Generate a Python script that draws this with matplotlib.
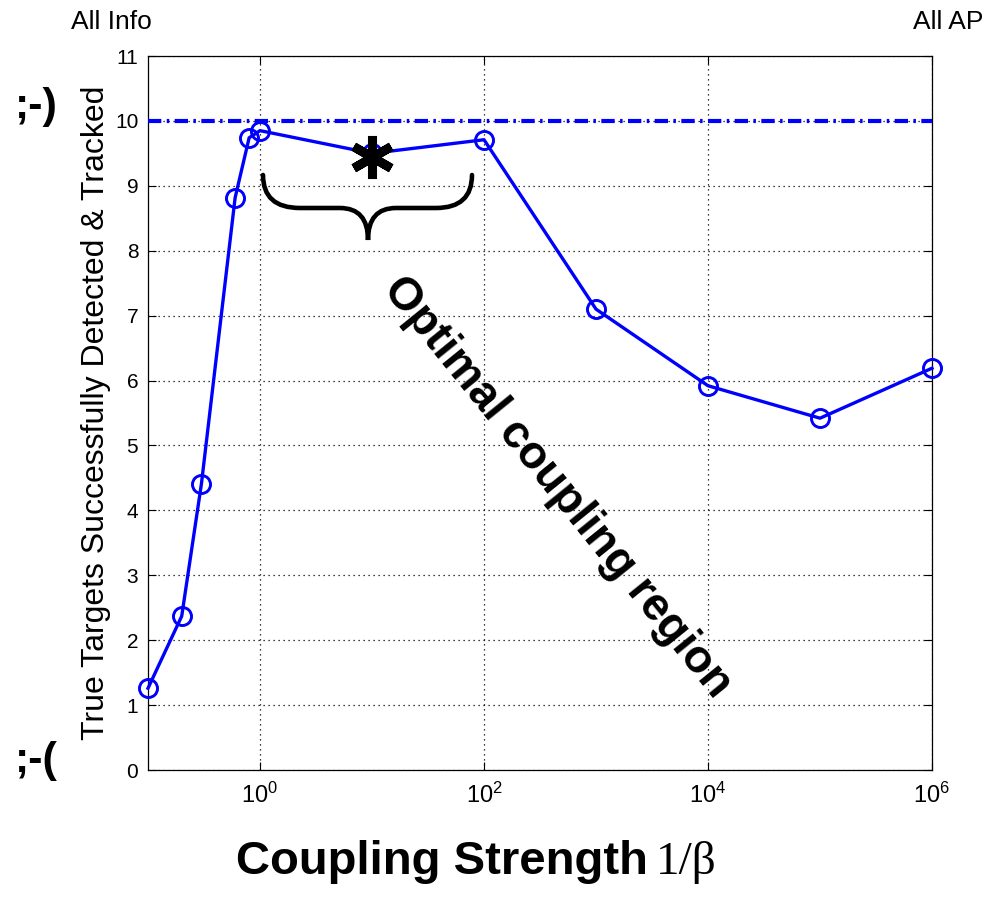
import numpy as np
import matplotlib
matplotlib.use("Agg")
import matplotlib.pyplot as plt
from matplotlib.path import Path
from matplotlib.patches import PathPatch

plt.rcParams['font.family'] = ['Liberation Sans', 'DejaVu Sans']
plt.rcParams['mathtext.fontset'] = 'custom'
plt.rcParams['mathtext.rm'] = 'Liberation Sans'
plt.rcParams['mathtext.it'] = 'Liberation Sans:italic'
plt.rcParams['mathtext.bf'] = 'Liberation Sans:bold'

# ---- data ----
coupling = [0.1, 0.2, 0.3, 0.6, 0.8, 1.0, 10.0, 100.0, 1e3, 1e4, 1e5, 1e6]
targets = [1.26, 2.37, 4.41, 8.82, 9.74, 9.85, 9.50, 9.71, 7.10, 5.92, 5.42, 6.19]
max_targets = 10
star_x = 10.0
star_y = 9.45
y_ticks = list(range(0, 12))
x_ticks = [1, 1e2, 1e4, 1e6]
ylabel = "True Targets Successfully Detected & Tracked"
xlabel_main = "Coupling Strength"
xlabel_sym = "1/\u03b2"

W, H = 986, 900
fig = plt.figure(figsize=(W / 100, H / 100), dpi=100)
ax = fig.add_axes([148 / W, 1 - 770 / H, 784 / W, 714 / H])

def fx(px):
    return px / W

def fy(py):
    return 1 - py / H

ax.plot(coupling, targets, '-', color='#0000ff', lw=2.4, zorder=3, clip_on=False)
ax.plot(coupling, targets, 'o', color='#0000ff', ms=13, mfc='none',
        mec='#0000ff', mew=2.1, zorder=3, clip_on=False)
ax.axhline(max_targets, color='#0000ff', lw=3, linestyle=(0, (3.2, 1.3, 0.6, 1.3)), zorder=3)
ax.plot([star_x], [star_y], marker=(6, 2, 0), color='black', ms=31, mew=6.5, zorder=4)

ax.set_xscale('log')
ax.set_xlim(0.1, 1e6)
ax.set_ylim(0, 11)
ax.set_yticks(y_ticks)
ax.set_xticks(x_ticks)
ax.xaxis.set_minor_locator(matplotlib.ticker.NullLocator())
ax.grid(True, which='major', color='black', linestyle=(0, (1, 3)), lw=0.9)
ax.tick_params(direction='in', length=6, width=0.8, top=True, right=True,
               labelsize=15, pad=7)
ax.tick_params(axis='x', labelsize=17, pad=9)
for s in ax.spines.values():
    s.set_linewidth(0.9)

ax.set_ylabel(ylabel, fontsize=23, labelpad=3)

# Brace
lw_b = 3.3
pts = [(263, 175), (263, 208), (300, 208),
       (340, 208), (368, 208), (368, 240),
       (368, 208), (396, 208), (436, 208),
       (472, 208), (472, 175)]
verts = [(fx(p[0]), fy(p[1])) for p in pts]
codes = [Path.MOVETO, Path.CURVE3, Path.CURVE3,
         Path.LINETO, Path.CURVE3, Path.CURVE3,
         Path.CURVE3, Path.CURVE3, Path.LINETO,
         Path.CURVE3, Path.CURVE3]
fig.patches.append(PathPatch(Path(verts, codes), transform=fig.transFigure,
                             fill=False, lw=lw_b, color='black', capstyle='round'))

fig.text(fx(557), fy(487), "Optimal coupling region", rotation=-51,
         fontsize=33, fontweight='bold', ha='center', va='center',
         rotation_mode='anchor')

fig.text(fx(111), fy(22), "All Info", fontsize=19, ha='center', va='center')
fig.text(fx(913), fy(22), "All AP", fontsize=19, ha='left', va='center')
fig.text(fx(36), fy(107), ";-)", fontsize=31, fontweight='bold', ha='center', va='center')
fig.text(fx(36), fy(761), ";-(", fontsize=31, fontweight='bold', ha='center', va='center')

fig.text(fx(648), fy(874), xlabel_main, fontsize=34, fontweight='bold', ha='right', va='baseline')
fig.text(fx(656), fy(874), xlabel_sym, fontsize=34, family='Liberation Serif', ha='left', va='baseline')

fig.savefig("out.png", dpi=100)
